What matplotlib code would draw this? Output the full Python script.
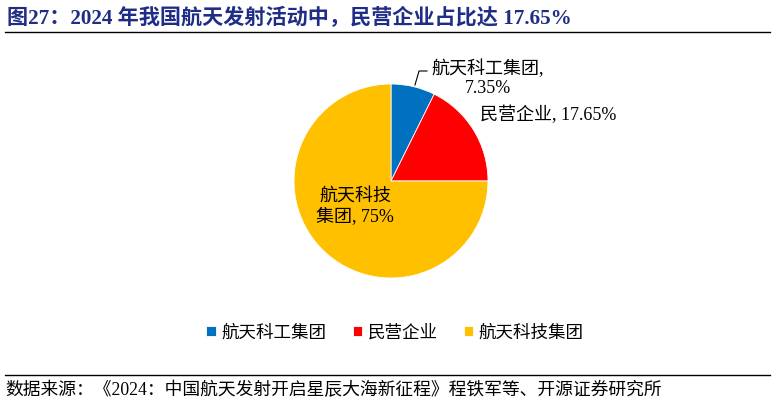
import matplotlib
matplotlib.use("Agg")
import matplotlib.pyplot as plt
from matplotlib.lines import Line2D

plt.rcParams['font.family'] = ['Liberation Serif', 'Noto Sans CJK SC', 'DejaVu Sans']

labels = ['航天科工集团', '民营企业', '航天科技集团']
values = [7.35, 17.65, 75]
pie_text = ['航天科工集团,\n7.35%', '民营企业, 17.65%', '航天科技\n集团, 75%']
colors = ['#0070C0', '#FF0000', '#FFC000']

title = '图27：2024 年我国航天发射活动中，民营企业占比达 17.65%'
source = '数据来源：《2024：中国航天发射开启星辰大海新征程》程铁军等、开源证券研究所'

W, H = 774, 405
fig = plt.figure(figsize=(W / 100, H / 100), dpi=100)


def fx(x):
    return x / W


def fy(y):
    return 1 - y / H


# pie centre (391, 181), radius 97 px
cx, cy, r = 391, 181, 97
ax = fig.add_axes([fx(cx - r), fy(cy + r), 2 * r / W, 2 * r / H])
wedges, _ = ax.pie(values, colors=colors, startangle=90, counterclock=False,
                   radius=1, wedgeprops=dict(edgecolor='white', linewidth=0.6))
ax.set_xlim(-1, 1)
ax.set_ylim(-1, 1)
ax.set_aspect('equal')
ax.axis('off')

# data labels
ax.text(1.0, 1.06, pie_text[0], ha='center', va='center', fontsize=13,
        linespacing=1.2, clip_on=False)
ax.plot([0.247, 0.289, 0.371], [0.99, 1.134, 1.134], color='black', lw=0.8,
        clip_on=False)
ax.text(0.92, 0.68, pie_text[1], ha='left', va='center', fontsize=13,
        clip_on=False)
ax.text(-0.37, -0.27, pie_text[2], ha='center', va='center', fontsize=13,
        linespacing=1.2, clip_on=False)

# title and rules
fig.text(fx(7), fy(18), title, ha='left', va='center', fontsize=15.2,
         fontweight='bold', color='#1F2D86')
fig.add_artist(Line2D([fx(5), fx(770)], [fy(32), fy(32)], color='black', lw=1))
fig.add_artist(Line2D([fx(5), fx(770)], [fy(375), fy(375)], color='black', lw=1))
fig.text(fx(5), fy(390), source, ha='left', va='center', fontsize=12.8)

fig.legend(wedges, labels, loc='center', bbox_to_anchor=(fx(395), fy(333)),
           ncol=3, frameon=False, fontsize=12.6, handlelength=0.55,
           handleheight=0.55, handletextpad=0.3, columnspacing=1.5)

fig.savefig('out.png', dpi=100)
